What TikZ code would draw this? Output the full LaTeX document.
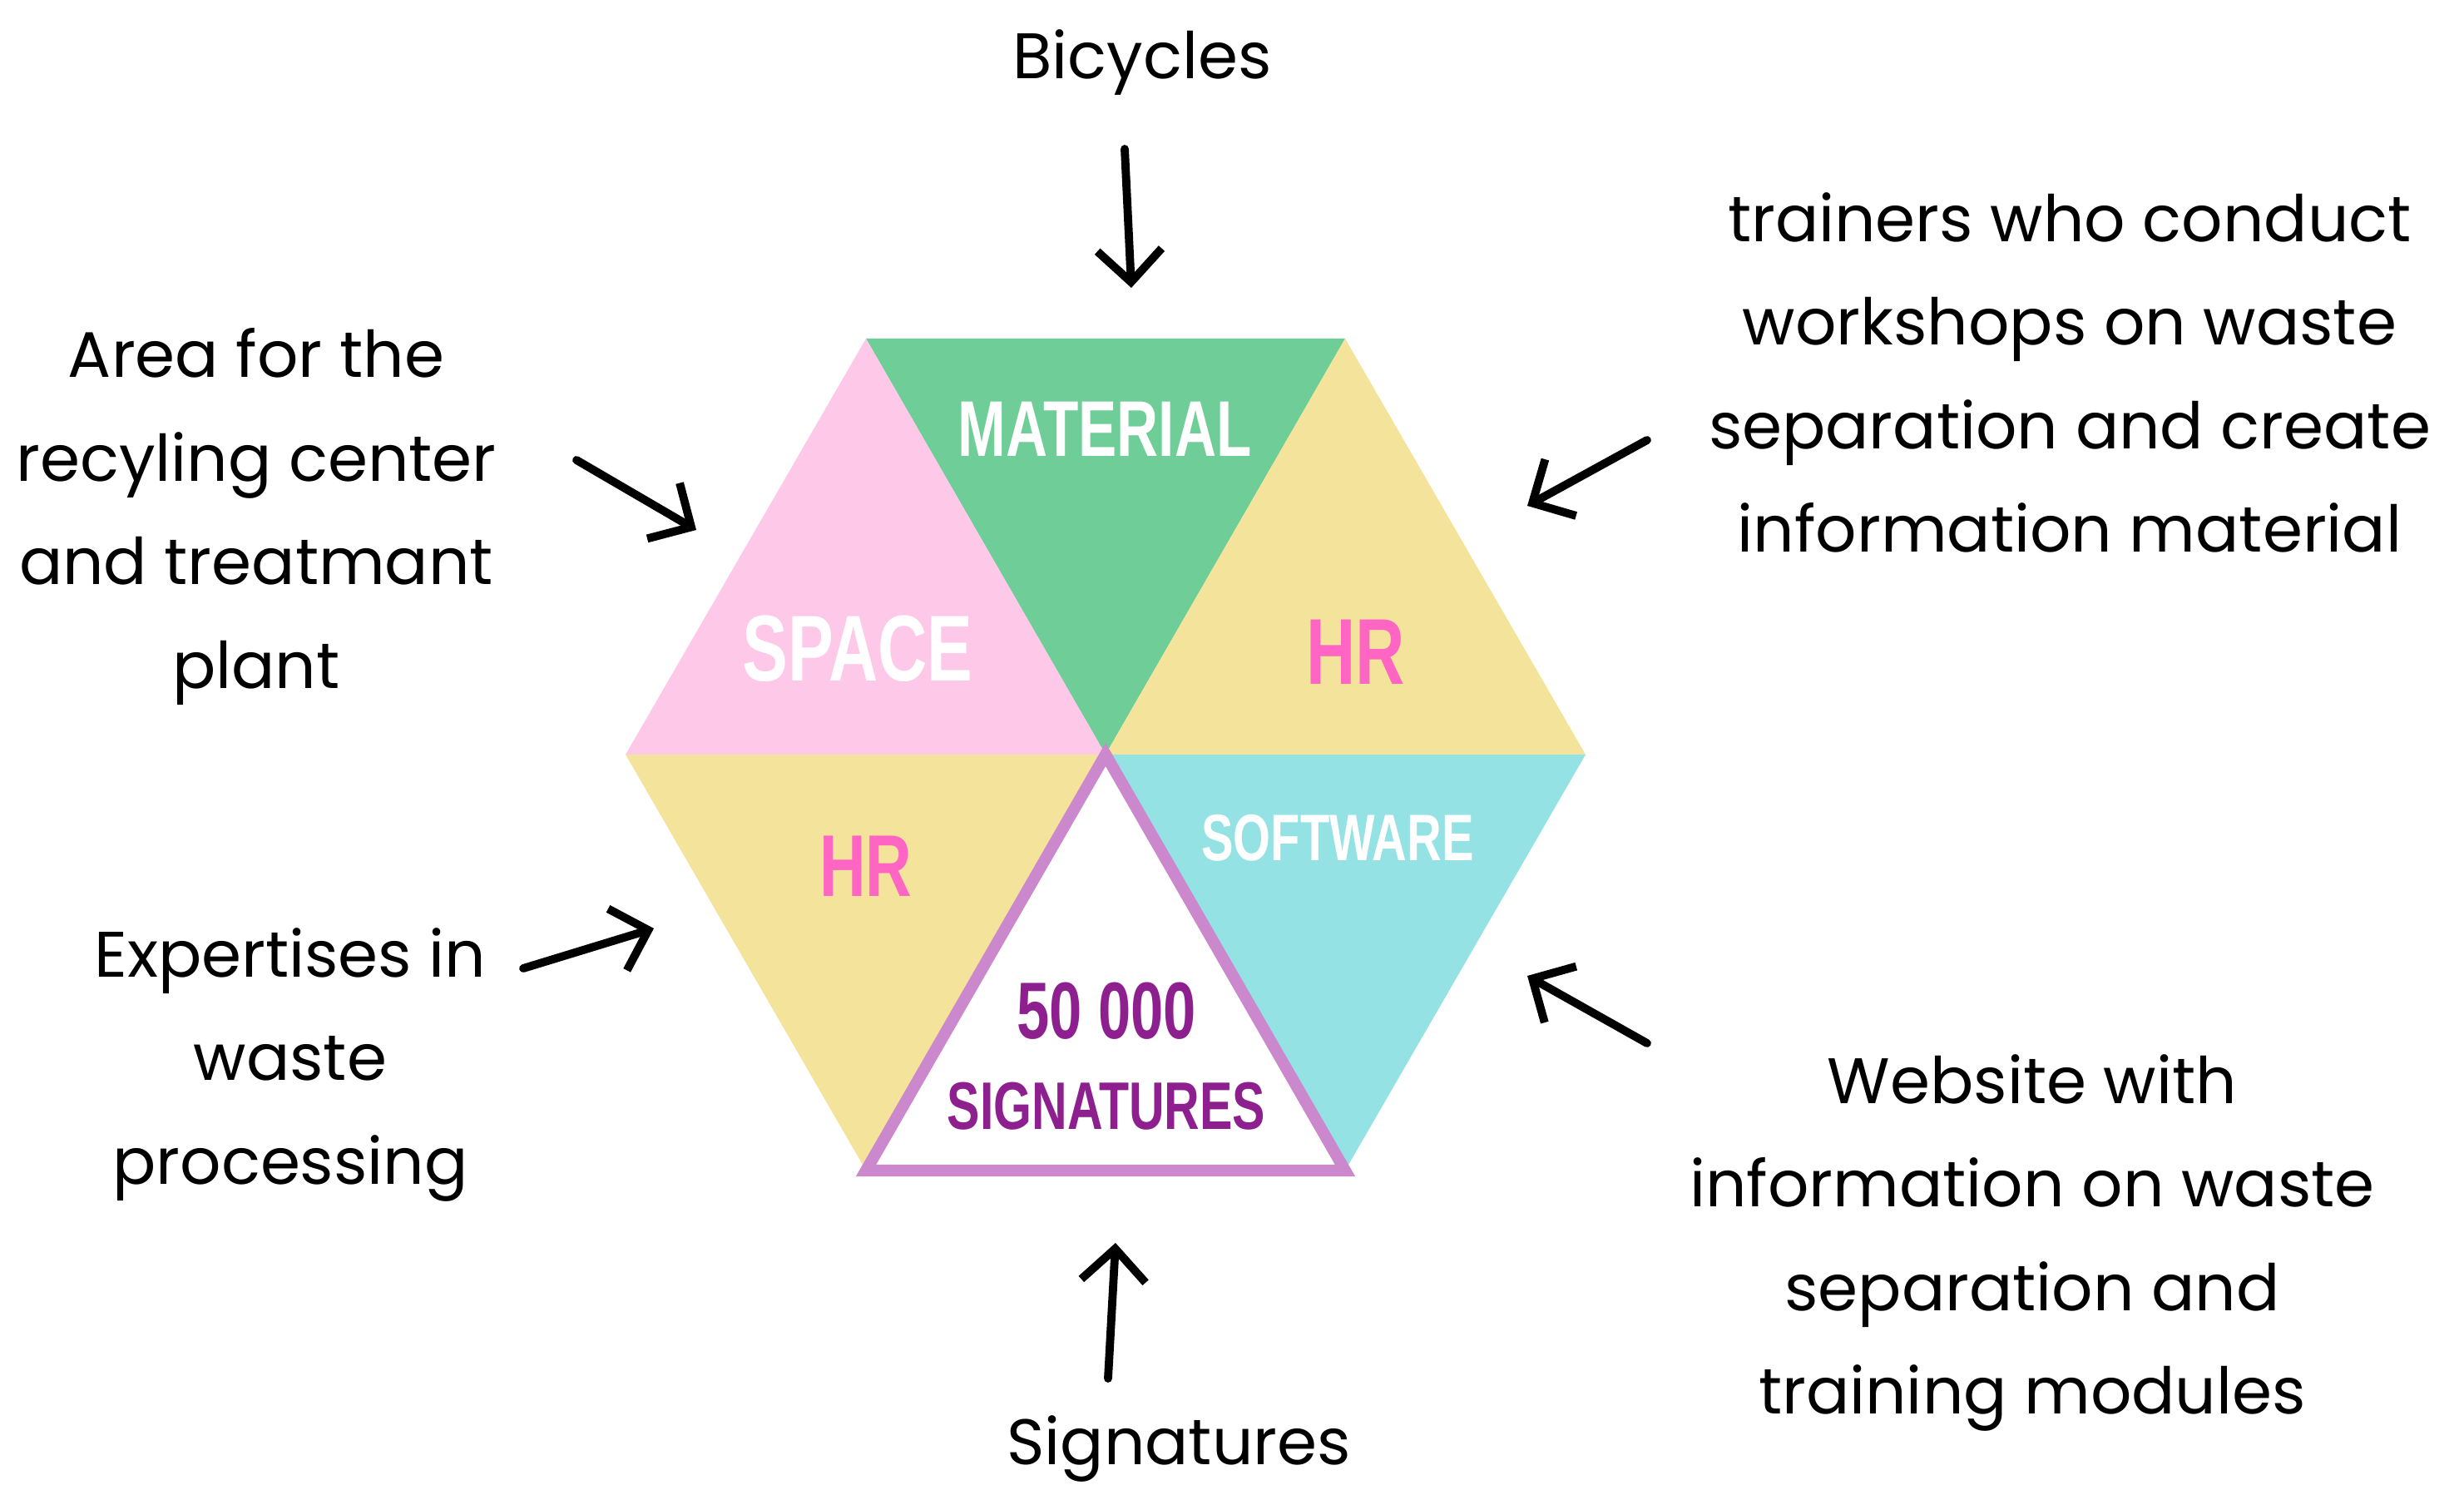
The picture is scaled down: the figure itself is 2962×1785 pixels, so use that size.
\documentclass[tikz,border=0pt]{standalone}
\usepackage{fontspec}
\setmainfont{Poppins}
\newfontfamily\hexfont[FakeStretch=0.73]{Liberation Sans}
\usepackage{xcolor}
\usepackage{tikz}
\usetikzlibrary{arrows.meta,positioning,calc}
\definecolor{matgreen}{HTML}{6FCE97}
\definecolor{spacepink}{HTML}{FEC8E8}
\definecolor{hryellow}{HTML}{F4E39B}
\definecolor{softcyan}{HTML}{95E2E5}
\definecolor{hrpink}{HTML}{FF66C4}
\definecolor{sigpurple}{HTML}{8E1F8E}
\definecolor{sigborder}{HTML}{CC88CC}

\begin{document}
\begin{tikzpicture}[x = .01cm, y = -.01cm]
    \useasboundingbox (0,0) rectangle (2962,1785);
    \tikzset{
      hexlabel/.style = {inner sep = 0pt},
      outer/.style = {font = \fontsize{22}{35.4}\selectfont, align = center},
      pointer/.style = {-{Straight Barb[length=11pt, width=22pt]}, line width = 2.8pt, line cap = round, line join = round}
    }
    % hexagon corners
    \coordinate (c) at (1329,907);
    \coordinate (r) at (1906,907);
    \coordinate (ur) at (1617,407);
    \coordinate (ul) at (1041,407);
    \coordinate (l) at (752,907);
    \coordinate (ll) at (1041,1407);
    \coordinate (lr) at (1617,1407);
    \fill[matgreen] (ul) -- (ur) -- (c) -- cycle;
    \fill[spacepink] (ul) -- (l) -- (c) -- cycle;
    \fill[hryellow] (ur) -- (r) -- (c) -- cycle;
    \fill[hryellow] (l) -- (ll) -- (c) -- cycle;
    \fill[softcyan] (r) -- (lr) -- (c) -- cycle;
    \draw[sigborder, fill = white, line width = 4pt, line join = miter] (c) -- (ll) -- (lr) -- cycle;
    % labels in the hexagon
    \node[hexlabel, white, font = \hexfont\bfseries\fontsize{27}{27}\selectfont] (material) at (1328,516) {MATERIAL};
    \node[hexlabel, white, font = \hexfont\bfseries\fontsize{32}{32}\selectfont] (space) at (1031,780) {SPACE};
    \node[hexlabel, hrpink, font = \hexfont\bfseries\fontsize{32}{32}\selectfont] (hrtop) at (1630,784) {HR};
    \node[hexlabel, hrpink, font = \hexfont\bfseries\fontsize{30}{30}\selectfont] (hrbottom) at (1041,1041) {HR};
    \node[hexlabel, white, font = \hexfont\bfseries\fontsize{22.5}{22.5}\selectfont] (software) at (1608,1007) {SOFTWARE};
    \node[hexlabel, sigpurple, font = \hexfont\bfseries\fontsize{27.5}{27.5}\selectfont] (count) at (1330,1215) {50 000};
    \node[hexlabel, sigpurple, font = \hexfont\bfseries\fontsize{23}{23}\selectfont] (sigs) at (1330,1330) {SIGNATURES};
    % texts around
    \node[outer] (bicycles) at (1373,75) {Bicycles};
    \node[outer] (trainers) at (2488,448) {trainers who conduct\\workshops on waste\\separation and create\\information material};
    \node[outer] (area) at (308,621) {Area for the\\recyling center\\and treatmant\\plant};
    \node[outer] (expert) at (349,1280) {Expertises in\\waste\\processing};
    \node[outer] (website) at (2443,1494) {Website with\\information on waste\\separation and\\training modules};
    \node[outer] (signatures) at (1417,1741) {Signatures};
    % arrows
    \coordinate (bicfrom) at (1352,179);
    \coordinate (bicto) at (1360,346);
    \coordinate (areafrom) at (693,553);
    \coordinate (areato) at (837,637);
    \coordinate (trainfrom) at (1980,529);
    \coordinate (trainto) at (1836,608);
    \coordinate (expfrom) at (629,1164);
    \coordinate (expto) at (786,1116);
    \coordinate (webfrom) at (1980,1254);
    \coordinate (webto) at (1836,1173);
    \coordinate (sigfrom) at (1332,1657);
    \coordinate (sigto) at (1341,1494);
    \draw[pointer] (bicfrom) -- (bicto);
    \draw[pointer] (areafrom) -- (areato);
    \draw[pointer] (trainfrom) -- (trainto);
    \draw[pointer] (expfrom) -- (expto);
    \draw[pointer] (webfrom) -- (webto);
    \draw[pointer] (sigfrom) -- (sigto);
\end{tikzpicture}
\end{document}
